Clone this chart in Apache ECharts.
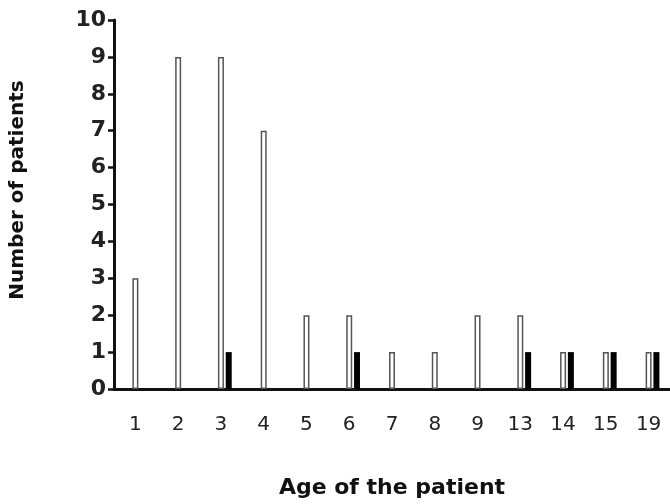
<!DOCTYPE html>
<html>
<head>
<meta charset="utf-8">
<script src="https://cdn.jsdelivr.net/npm/echarts@6/dist/echarts.min.js"></script>
<style>html,body{margin:0;padding:0;background:#fff}#chart{width:670px;height:504px}</style>
</head>
<body>
<div id="chart"></div>
<script>
const categories = ['1','2','3','4','5','6','7','8','9','13','14','15','19'];
const whiteSeries = [3,9,9,7,2,2,1,1,2,2,1,1,1];
const blackSeries = [0,0,1,0,0,1,0,0,0,1,1,1,1];
const placeholder = categories.map(() => 0);
const yTicks = [0,1,2,3,4,5,6,7,8,9,10];

const chart = echarts.init(document.getElementById('chart'), null, {renderer:'canvas'});
const font = 'DejaVu Sans';
chart.setOption({
  animation:false,
  backgroundColor:'#ffffff',
  grid:{left:114,right:0,top:20,bottom:114},
  xAxis:{
    type:'category',
    data:categories,
    name:'Age of the patient',
    nameLocation:'middle',
    nameGap:88,
    nameTextStyle:{fontFamily:font,fontWeight:'bold',fontSize:22,color:'#111'},
    axisLine:{lineStyle:{color:'#111',width:3}},
    axisTick:{show:false},
    axisLabel:{fontFamily:font,fontSize:20,color:'#222',margin:26}
  },
  yAxis:{
    type:'value',
    min:yTicks[0],max:yTicks[yTicks.length-1],interval:1,
    axisLine:{show:true,lineStyle:{color:'#111',width:3}},
    axisTick:{show:true,length:6,lineStyle:{color:'#111',width:2.5}},
    splitLine:{show:false},
    axisLabel:{fontFamily:font,fontWeight:'bold',fontSize:22,color:'#222',margin:8}
  },
  graphic:[{
    type:'text',
    x:18,y:190,rotation:Math.PI/2,
    style:{text:'Number of patients',fontFamily:font,fontWeight:'bold',fontSize:20,fill:'#111',align:'center',verticalAlign:'middle'}
  }],
  series:[
    {type:'bar',data:placeholder,barWidth:6,barGap:'30%',itemStyle:{color:'rgba(0,0,0,0)'},silent:true},
    {type:'bar',data:whiteSeries,barWidth:6,barGap:'30%',itemStyle:{color:'#ffffff',borderColor:'#555',borderWidth:1.5}},
    {type:'bar',data:blackSeries,barWidth:6,barGap:'30%',itemStyle:{color:'#000'}}
  ]
});
</script>
</body>
</html>
